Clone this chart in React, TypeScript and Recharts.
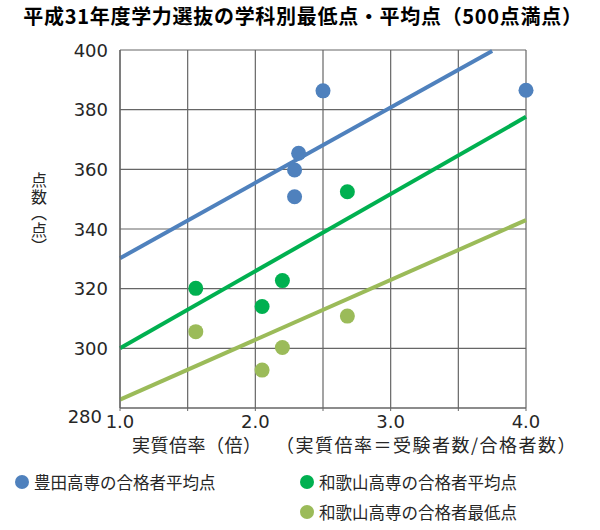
import {
  ScatterChart,
  Scatter,
  XAxis,
  YAxis,
  CartesianGrid,
  ReferenceLine,
} from "recharts";

const toyotaRatio = [2.5, 4.0, 2.32, 2.29, 2.29];
const toyotaAvg = [386.3, 386.5, 365.4, 359.8, 350.8];

const wakayamaRatio = [1.56, 2.05, 2.2, 2.68];
const wakayamaAvg = [320.1, 314.0, 322.7, 352.5];
const wakayamaMin = [305.6, 292.7, 300.3, 310.8];

// trendline end points
const toyotaTrend = [
  { x: 1.0, y: 330.2 },
  { x: 3.75, y: 399.7 },
];
const wakayamaAvgTrend = [
  { x: 1.0, y: 300.0 },
  { x: 4.0, y: 377.6 },
];
const wakayamaMinTrend = [
  { x: 1.0, y: 282.8 },
  { x: 4.0, y: 343.0 },
];

const xTicks = [1, 1.5, 2, 2.5, 3, 3.5, 4];
const yTicks = [280, 300, 320, 340, 360, 380, 400];

const BLUE = "#4f81bd";
const GREEN = "#00b050";
const LIGHT = "#9bbb59";
const GRID = "#666";
const JP = '"Noto Sans CJK JP", sans-serif';

const toyota = toyotaRatio.map((x, i) => ({ x, y: toyotaAvg[i] }));
const wkAvg = wakayamaRatio.map((x, i) => ({ x, y: wakayamaAvg[i] }));
const wkMin = wakayamaRatio.map((x, i) => ({ x, y: wakayamaMin[i] }));

const dot = (color: string) => (p: any) =>
  <circle cx={p.cx} cy={p.cy} r={7.5} fill={color} />;

const YTick = (p: any) => {
  const v = p.payload.value;
  const low = v === 280;
  return (
    <text
      x={p.x - (low ? 6 : 0)}
      y={p.y + (low ? 8 : 0)}
      textAnchor="end"
      dominantBaseline="central"
      fontSize={18}
      fontFamily="DejaVu Sans"
      fill="#262626"
    >
      {v}
    </text>
  );
};

const legend = [
  { label: "豊田高専の合格者平均点", color: BLUE, left: 15, top: 470 },
  { label: "和歌山高専の合格者平均点", color: GREEN, left: 300, top: 470 },
  { label: "和歌山高専の合格者最低点", color: LIGHT, left: 300, top: 500 },
];

export default function App() {
  return (
    <div
      style={{
        position: "absolute",
        left: 0,
        top: 0,
        width: 600,
        height: 530,
        background: "#fff",
        fontFamily: JP,
        color: "#262626",
      }}
    >
      <div
        style={{
          position: "absolute",
          top: 1,
          left: 0,
          width: 606,
          textAlign: "center",
          fontSize: 20,
          letterSpacing: 0.7,
          fontWeight: "bold",
          color: "#000",
          whiteSpace: "nowrap",
        }}
      >
        平成31年度学力選抜の学科別最低点・平均点（500点満点）
      </div>

      <ScatterChart
        width={600}
        height={530}
        margin={{ top: 50, right: 74, bottom: 92, left: 0 }}
      >
        <CartesianGrid stroke={GRID} strokeWidth={1.2} />
        <XAxis
          type="number"
          dataKey="x"
          domain={[1, 4]}
          ticks={xTicks}
          tickFormatter={(v: number) => (Number.isInteger(v) ? v.toFixed(1) : "")}
          height={30}
          axisLine={{ stroke: GRID, strokeWidth: 1.2 }}
          tickLine={{ stroke: GRID }}
          tickSize={3}
          tickMargin={4}
          tick={{ fontSize: 18, fontFamily: "DejaVu Sans", fill: "#262626" }}
        />
        <YAxis
          type="number"
          dataKey="y"
          domain={[280, 400]}
          ticks={yTicks}
          width={120}
          axisLine={{ stroke: GRID, strokeWidth: 1.2 }}
          tickLine={false}
          tickSize={6}
          tickMargin={6}
          tick={<YTick />}
        />
        <ReferenceLine segment={toyotaTrend} stroke={BLUE} strokeWidth={4} />
        <ReferenceLine segment={wakayamaAvgTrend} stroke={GREEN} strokeWidth={4} />
        <ReferenceLine segment={wakayamaMinTrend} stroke={LIGHT} strokeWidth={4} />
        <Scatter data={toyota} shape={dot(BLUE)} isAnimationActive={false} />
        <Scatter data={wkAvg} shape={dot(GREEN)} isAnimationActive={false} />
        <Scatter data={wkMin} shape={dot(LIGHT)} isAnimationActive={false} />
      </ScatterChart>

      <div
        style={{
          position: "absolute",
          left: 30,
          top: 172,
          writingMode: "vertical-rl",
          fontSize: 16,
          lineHeight: "18px",
          letterSpacing: 0.5,
        }}
      >
        点数（点）
      </div>

      <div style={{ position: "absolute", left: 132, top: 431, fontSize: 18, letterSpacing: 0.5, whiteSpace: "nowrap" }}>
        実質倍率（倍）
      </div>
      <div style={{ position: "absolute", left: 276, top: 431, fontSize: 18, letterSpacing: 1.5, whiteSpace: "nowrap" }}>
        （実質倍率＝受験者数/合格者数）
      </div>

      {legend.map((l) => (
        <div
          key={l.label}
          style={{
            position: "absolute",
            left: l.left,
            top: l.top,
            display: "flex",
            alignItems: "center",
            fontSize: 16.5,
            whiteSpace: "nowrap",
          }}
        >
          <span
            style={{
              display: "inline-block",
              width: 14,
              height: 14,
              borderRadius: "50%",
              background: l.color,
              marginRight: 5,
            }}
          />
          {l.label}
        </div>
      ))}
    </div>
  );
}
